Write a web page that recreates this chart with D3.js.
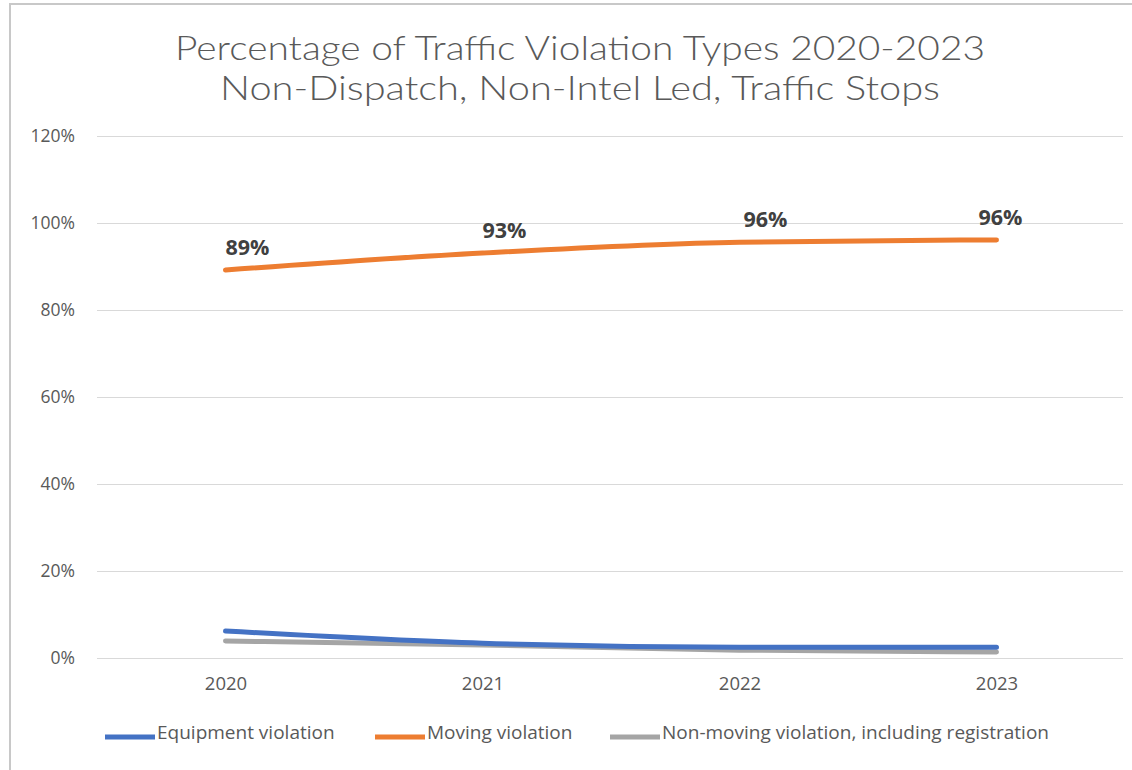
<!DOCTYPE html>
<html>
<head>
<meta charset="utf-8">
<script src="https://cdn.jsdelivr.net/npm/d3@7"></script>
<style>
  html, body { margin: 0; padding: 0; background: #fff; }
  svg { display: block; }
</style>
</head>
<body>
<svg id="chart" width="1132" height="770"></svg>
<script>
const years = ["2020", "2021", "2022", "2023"];
const equipment = [0.062, 0.034, 0.025, 0.025];
const moving = [0.892, 0.931, 0.956, 0.961];
const nonMoving = [0.039, 0.030, 0.018, 0.014];
const movingLabels = ["89%", "93%", "96%", "96%"];
const yTicks = [0, 0.2, 0.4, 0.6, 0.8, 1.0, 1.2];
const titleLines = ["Percentage of Traffic Violation Types 2020-2023", "Non-Dispatch, Non-Intel Led, Traffic Stops"];
const seriesNames = ["Equipment violation", "Moving violation", "Non-moving violation, including registration"];
const seriesColors = ["#4472c4", "#ed7d31", "#a5a5a5"];
const labelAnchors = ["start", "start", "start", "middle"];

const svg = d3.select("#chart");
const font = "'Open Sans', 'Segoe UI', sans-serif";

// frame
svg.append("line").attr("x1", 10).attr("x2", 1132).attr("y1", 4).attr("y2", 4)
  .attr("stroke", "#c8c8c8").attr("stroke-width", 2);
svg.append("line").attr("x1", 10).attr("x2", 10).attr("y1", 3).attr("y2", 770)
  .attr("stroke", "#c8c8c8").attr("stroke-width", 2);

// title
const titleWidths = [810, 720];
const titleY = [60, 100];
titleLines.forEach((t, i) => {
  svg.append("text").attr("text-anchor", "middle")
    .attr("x", 580).attr("y", titleY[i])
    .attr("font-family", "Lato, 'Open Sans', sans-serif").attr("font-weight", 300).attr("font-size", 33)
    .attr("fill", "#595959")
    .attr("textLength", titleWidths[i]).attr("lengthAdjust", "spacingAndGlyphs")
    .text(t);
});

const x = d3.scalePoint().domain(years).range([97, 1125]).padding(0.5);
const y = d3.scaleLinear().domain([0, 1.2]).range([658, 136]);

// gridlines
svg.append("g").selectAll("line").data(yTicks).join("line")
  .attr("x1", 97).attr("x2", 1123)
  .attr("y1", d => Math.round(y(d)) + 0.5).attr("y2", d => Math.round(y(d)) + 0.5)
  .attr("stroke", "#d9d9d9").attr("stroke-width", 1);

// y axis labels
const yAxis = d3.axisLeft(y).tickValues(yTicks).tickFormat(d3.format(".0%")).tickSize(0).tickPadding(0);
const gy = svg.append("g").attr("transform", "translate(75,0)").call(yAxis);
gy.select(".domain").remove();
gy.selectAll("text").attr("font-family", font).attr("font-size", 17.5).attr("fill", "#595959");

// x axis labels
const xAxis = d3.axisBottom(x).tickSize(0).tickPadding(0);
const gx = svg.append("g").attr("transform", "translate(0,677)").call(xAxis);
gx.select(".domain").remove();
gx.selectAll("text").attr("font-family", font).attr("font-size", 18.5).attr("fill", "#595959");

const line = d3.line().x((d, i) => x(years[i])).y(d => y(d)).curve(d3.curveMonotoneX);
const allSeries = [equipment, moving, nonMoving];
// draw order: moving, nonMoving, equipment on top
[1, 2, 0].forEach(k => {
  svg.append("path").datum(allSeries[k]).attr("d", line)
    .attr("fill", "none").attr("stroke", seriesColors[k])
    .attr("stroke-width", 5).attr("stroke-linecap", "round");
});

// data labels
svg.append("g").selectAll("text").data(moving).join("text")
  .attr("x", (d, i) => x(years[i]) + (i >= 2 ? 4 : 0))
  .attr("y", d => y(d) - 15)
  .attr("text-anchor", (d, i) => labelAnchors[i])
  .attr("font-family", font).attr("font-weight", 700).attr("font-size", 21.5)
  .attr("fill", "#404040")
  .text((d, i) => movingLabels[i]);

// legend
const legendX = [105, 375, 610];
const lg = svg.append("g");
seriesNames.forEach((name, k) => {
  lg.append("line").attr("x1", legendX[k]).attr("x2", legendX[k] + 50)
    .attr("y1", 737).attr("y2", 737)
    .attr("stroke", seriesColors[k]).attr("stroke-width", 5);
  lg.append("text").attr("x", legendX[k] + 52).attr("y", 734)
    .attr("dominant-baseline", "middle")
    .attr("font-family", font).attr("font-size", 19).attr("fill", "#595959")
    .text(name);
});
</script>
</body>
</html>
